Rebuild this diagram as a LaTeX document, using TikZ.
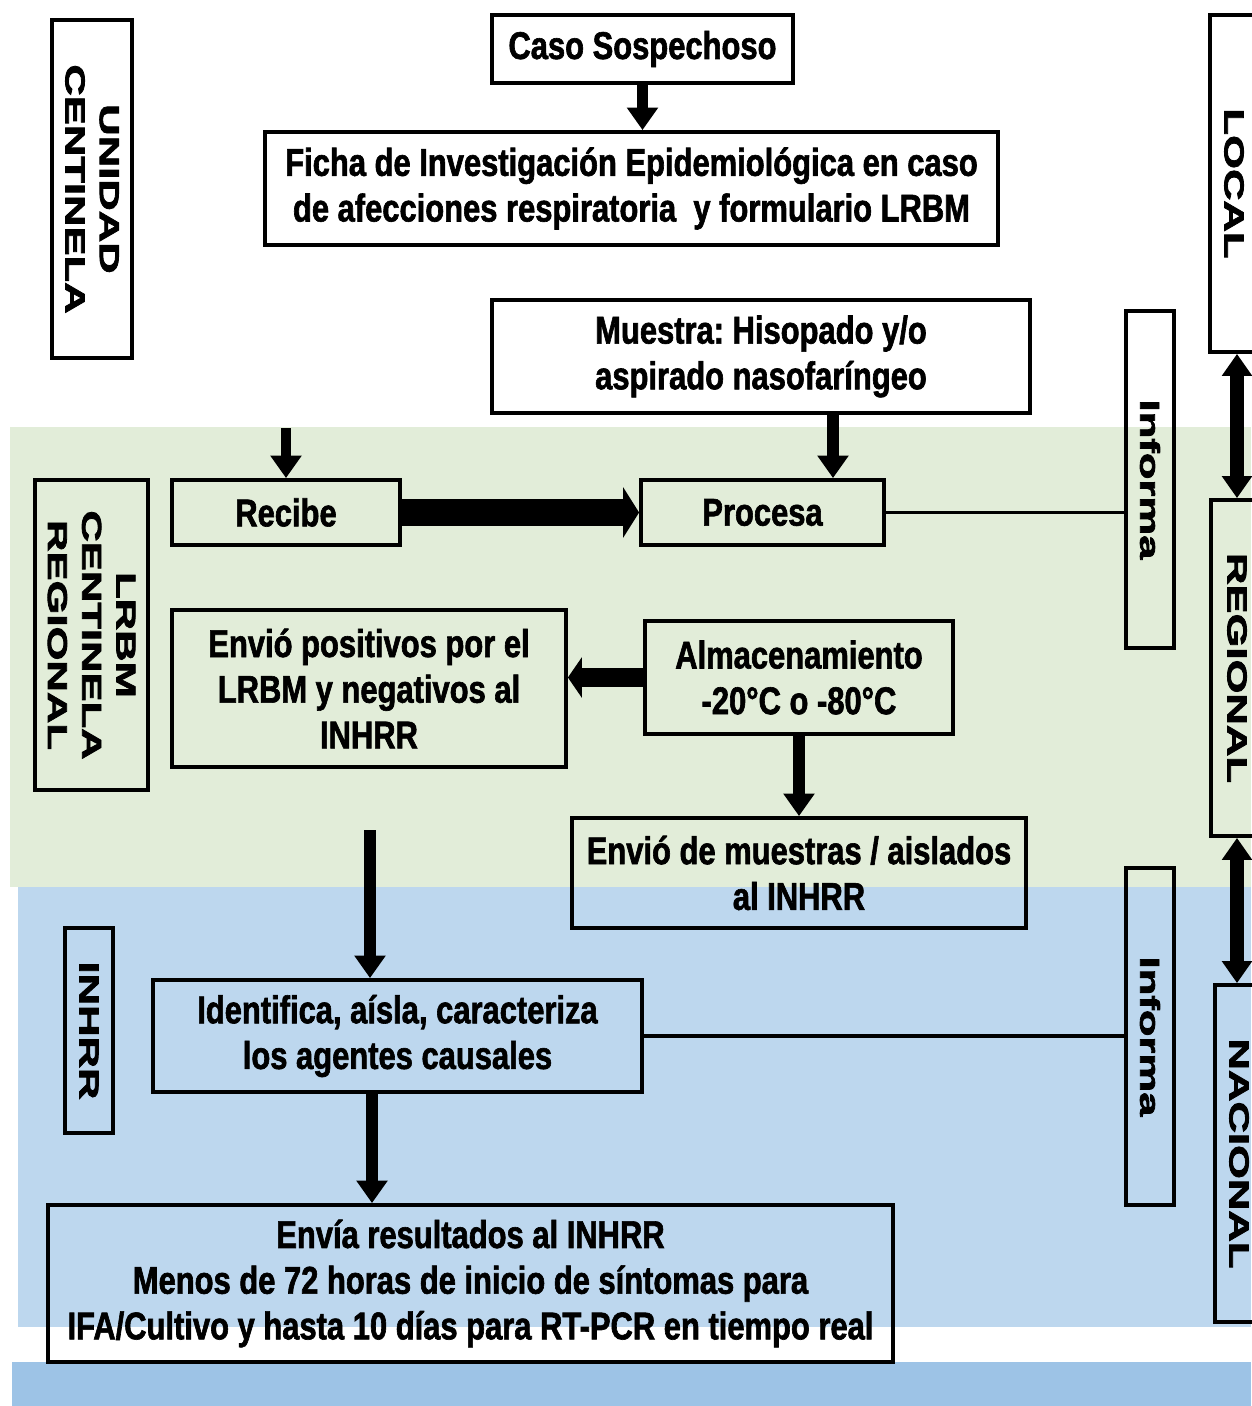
\documentclass[tikz,border=0pt]{standalone}
\usepackage{fontspec}
\setmainfont{Liberation Sans}[FakeStretch=0.8,BoldFeatures={FakeBold=1.6}]
\newfontfamily\widefont{Liberation Sans}[FakeStretch=1.6,BoldFeatures={FakeBold=3}]
\usetikzlibrary{arrows.meta}
\definecolor{bandgreen}{HTML}{E2EDD9}
\definecolor{bandblue}{HTML}{BDD7EE}
\definecolor{stripblue}{HTML}{9DC3E6}
\frenchspacing

\begin{document}
\begin{tikzpicture}[x=0.02cm,y=-0.02cm,
    box/.style={draw,line width=2.2pt,align=center,inner sep=2pt,
      font=\fontsize{22}{26}\selectfont\bfseries},
    sidebox/.style={draw,line width=2.2pt,align=center,rotate=-90,inner sep=2pt,
      font=\widefont\fontsize{15.5}{19.5}\selectfont\bfseries},
    bigarrow/.style={line width=6.8pt,-{Triangle[width=0.6cm,length=0.45cm]}},
    fatarrow/.style={line width=15pt,-{Triangle[width=1cm,length=0.32cm]}},
    midarrow/.style={line width=11pt,-{Triangle[width=0.8cm,length=0.28cm]}},
    twoarrow/.style={line width=8pt,{Triangle[width=0.58cm,length=0.44cm]}-{Triangle[width=0.58cm,length=0.44cm]}},
    thinline/.style={line width=1.8pt}]

  \useasboundingbox (0,0) rectangle (1251,1406);

  % bands
  \fill[bandgreen] (10,427) rectangle (1251,887);
  \fill[bandblue] (18,887) rectangle (1251,1327);
  \fill[stripblue] (12,1362) rectangle (1251,1406);

  % levels
  \node[sidebox,minimum width=6.76cm,minimum height=1.6cm] (Unidad) at (92,189) {UNIDAD\\CENTINELA};
  \node[sidebox,minimum width=6.2cm,minimum height=2.26cm] (Lrbm) at (91.5,635) {LRBM\\CENTINELA\\REGIONAL};
  \node[sidebox,minimum width=4.1cm,minimum height=0.96cm] (Inhrr) at (89,1030.5) {INHRR};

  \node[sidebox,minimum width=6.74cm,minimum height=0.96cm] (Local) at (1234,183.5) {LOCAL};
  \node[sidebox,minimum width=6.72cm,minimum height=1.04cm] (Regional) at (1237,668) {REGIONAL};
  \node[sidebox,minimum width=6.74cm,minimum height=0.96cm] (Nacional) at (1239,1153.5) {NACIONAL};

  \node[sidebox,minimum width=6.74cm,minimum height=0.96cm] (Informa1) at (1150,479.5) {Informa};
  \node[sidebox,minimum width=6.74cm,minimum height=0.96cm] (Informa2) at (1150,1036.5) {Informa};

  % flow
  \node[box,minimum width=6.02cm,minimum height=1.36cm] (Caso) at (642.5,49) {Caso Sospechoso};
  \node[box,minimum width=14.66cm,minimum height=2.26cm] (Ficha) at (631.5,188.5)
    {Ficha de Investigación Epidemiológica en caso\\de afecciones respiratoria~ y formulario LRBM};
  \node[box,minimum width=10.76cm,minimum height=2.26cm] (Muestra) at (761,356.5)
    {Muestra: Hisopado y/o\\aspirado nasofaríngeo};
  \node[box,minimum width=4.56cm,minimum height=1.3cm] (Recibe) at (286,512.5) {Recibe};
  \node[box,minimum width=4.86cm,minimum height=1.3cm] (Procesa) at (762.5,512.5) {Procesa};
  \node[box,minimum width=7.88cm,minimum height=3.14cm] (Positivos) at (369,688.5)
    {Envió positivos por el\\LRBM y negativos al\\INHRR};
  \node[box,minimum width=6.16cm,minimum height=2.26cm] (Almacen) at (799,677.5)
    {Almacenamiento\\-20°C o -80°C};
  \node[box,minimum width=9.08cm,minimum height=2.2cm] (Envio) at (799,873)
    {Envió de muestras / aislados\\al INHRR};
  \node[box,minimum width=9.78cm,minimum height=2.24cm] (Identifica) at (397.5,1036)
    {Identifica, aísla, caracteriza\\los agentes causales};
  \node[box,minimum width=16.9cm,minimum height=3.14cm] (Envia) at (470.5,1283.5)
    {Envía resultados al INHRR\\Menos de 72 horas de inicio de síntomas para\\IFA/Cultivo y hasta 10 días para RT-PCR en tiempo real};

  \coordinate (InRecibe) at (286,428);
  \coordinate (InIdentifica) at (370,830);
  \coordinate (MuestraOut) at ([xshift=1.44cm]Muestra.south);
  \coordinate (IdentificaOut) at ([xshift=-0.51cm]Identifica.south);

  \path (Caso) edge[bigarrow] (Caso |- Ficha.north)
        (InRecibe) edge[bigarrow,line width=5.5pt] (Recibe.north)
        (MuestraOut) edge[bigarrow] (MuestraOut |- Procesa.north)
        (Recibe.east) edge[fatarrow] (Procesa.west)
        (Almacen.west) edge[midarrow] (Almacen.west -| Positivos.east)
        (Almacen.south) edge[bigarrow] (Envio.north)
        (InIdentifica) edge[bigarrow] (InIdentifica |- Identifica.north)
        (IdentificaOut) edge[bigarrow] (IdentificaOut |- Envia.north)

        (Procesa.east) edge[thinline] (Procesa.east -| Informa1.south)
        (Identifica.east) edge[thinline] (Identifica.east -| Informa2.south)

        (Regional.west |- Local.east) edge[twoarrow] (Regional.west)
        (Regional.east) edge[twoarrow] (Regional.east |- Nacional.west);
\end{tikzpicture}
\end{document}
